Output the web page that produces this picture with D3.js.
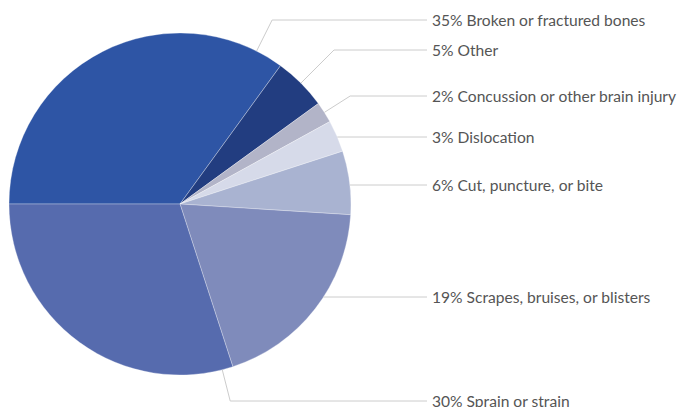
<!DOCTYPE html>
<html>
<head>
<meta charset="utf-8">
<script src="https://cdn.jsdelivr.net/npm/d3@7/dist/d3.min.js"></script>
<style>
  body { margin: 0; background: #fff; }
  svg text { font-family: Lato, "Noto Sans", sans-serif; }
</style>
</head>
<body>
<div id="chart"></div>
<script>
// data
const categories = ["Broken or fractured bones", "Other", "Concussion or other brain injury",
  "Dislocation", "Cut, puncture, or bite", "Scrapes, bruises, or blisters", "Sprain or strain"];
const values = [35, 5, 2, 3, 6, 19, 30];
const colors = ["#2e55a5", "#223d80", "#b2b4c8", "#d6dae9", "#a9b3d1", "#7f8bbb", "#566bae"];

// label layout (y of each label row, optional anchor angle in degrees)
const labelY = [20, 50, 96, 137, 185, 297, 401];
const anchorDeg = [26.6, null, null, null, null, null, 165.7];

const width = 683, height = 407;
const cx = 180, cy = 204, radius = 171;
const lineEndX = 427, textX = 432;

const svg = d3.select("#chart").append("svg")
  .attr("width", width)
  .attr("height", height);

const pie = d3.pie()
  .value(d => d)
  .sort(null)
  .startAngle(-Math.PI / 2)
  .endAngle(1.5 * Math.PI);

const arcs = pie(values);
const arc = d3.arc().innerRadius(0).outerRadius(radius);

const g = svg.append("g").attr("transform", "translate(" + cx + "," + cy + ")");

g.selectAll("path.slice")
  .data(arcs)
  .enter()
  .append("path")
  .attr("class", "slice")
  .attr("d", arc)
  .attr("fill", (d, i) => colors[i])
  .attr("stroke", "rgba(255,255,255,0.5)")
  .attr("stroke-width", 0.6);

// leader lines: radial from the arc until label row, then horizontal
function anchorAngle(d, i) {
  if (anchorDeg[i] != null) return anchorDeg[i] * Math.PI / 180;
  const dy = labelY[i] - cy;
  if (Math.abs(dy) < radius) {
    // angle where the row hits the right side of the circle
    const a = Math.PI / 2 + Math.asin(dy / radius);
    if (a >= d.startAngle && a <= d.endAngle) return a;
  }
  return (d.startAngle + d.endAngle) / 2;
}

const connectors = arcs.map((d, i) => {
  const a = anchorAngle(d, i);
  const sx = cx + radius * Math.sin(a), sy = cy - radius * Math.cos(a);
  const ty = labelY[i];
  let ex = sx;
  if (Math.abs(ty - sy) > 0.5) {
    const t = (ty - cy) / (-Math.cos(a));
    ex = cx + t * Math.sin(a);
  }
  return [[sx, sy], [ex, ty], [lineEndX, ty]];
});

svg.selectAll("path.leader")
  .data(connectors)
  .enter()
  .append("path")
  .attr("class", "leader")
  .attr("d", d3.line())
  .attr("fill", "none")
  .attr("stroke", "#cccccc")
  .attr("stroke-width", 1);

svg.selectAll("text.label")
  .data(categories)
  .enter()
  .append("text")
  .attr("class", "label")
  .attr("x", textX)
  .attr("y", (d, i) => labelY[i])
  .attr("dy", "0.38em")
  .attr("fill", "#555555")
  .style("font-size", "15.6px")
  .text((d, i) => values[i] + "% " + d);
</script>
</body>
</html>
